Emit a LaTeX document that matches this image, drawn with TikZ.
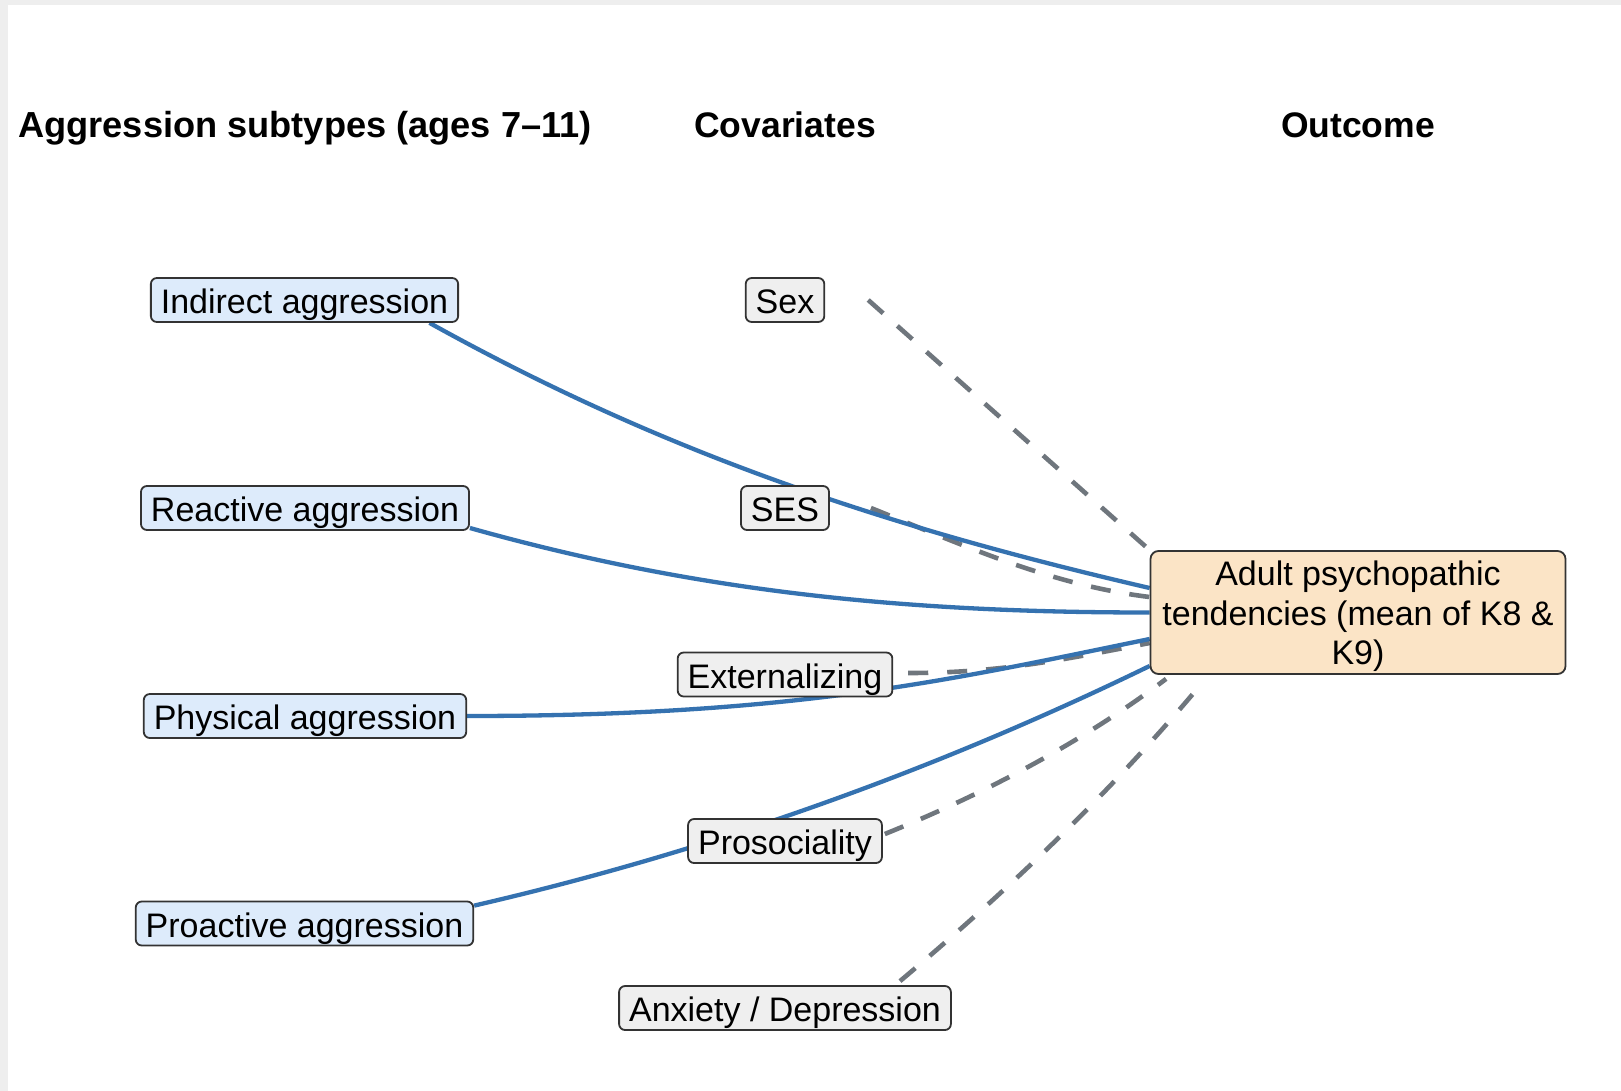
\documentclass[tikz,border=0pt]{standalone}
\usepackage{fontspec}
\setmainfont{Liberation Sans}
\usetikzlibrary{calc}
\definecolor{edgeblue}{HTML}{3572B0}
\definecolor{dashgray}{HTML}{6F767D}
\definecolor{boxborder}{HTML}{333333}
\definecolor{aggfill}{HTML}{DDEBFB}
\definecolor{covfill}{HTML}{EFEFEF}
\definecolor{outfill}{HTML}{FBE4C6}
\definecolor{framegray}{HTML}{EEEEEE}
\pgfdeclarelayer{bg}
\pgfdeclarelayer{edges}
\pgfsetlayers{bg,edges,main}
\begin{document}
\begin{tikzpicture}[x=1pt,y=-1pt,
  box/.style={draw=boxborder, line width=1.8pt, rounded corners=6pt, inner xsep=10pt, inner ysep=0pt, text height=35.5pt, text depth=8.5pt, font=\fontsize{34}{39}\selectfont},
  aggbox/.style={box, fill=aggfill},
  covbox/.style={box, fill=covfill},
  outbox/.style={draw=boxborder, line width=1.8pt, rounded corners=8pt, fill=outfill, minimum width=415pt, minimum height=123pt, align=center, font=\fontsize{34}{39.5}\selectfont, inner sep=0pt},
  heading/.style={font=\fontsize{35.5}{40}\selectfont\bfseries, anchor=base, inner sep=0pt},
  solidedge/.style={draw=edgeblue, line width=4.3pt},
  dashedge/.style={draw=dashgray, line width=4.6pt, dash pattern=on 20pt off 19pt},
]
\path[use as bounding box] (0,0) rectangle (1621,1091);
\begin{pgfonlayer}{bg}
  \fill[framegray] (0,0) rectangle (1621,1091);
  \fill[white] (8,5) rectangle (1621,1091);
\end{pgfonlayer}

% headings
\node[heading, font=\fontsize{36.2}{40}\selectfont\bfseries] (h1) at (305,138) {Aggression subtypes (ages 7–11)};
\node[heading] (h2) at (785,138) {Covariates};
\node[heading] (h3) at (1358,138) {Outcome};

% aggression subtypes
\node[aggbox] (ind) at (304.5,300) {Indirect aggression};
\node[aggbox] (rea) at (305,508) {Reactive aggression};
\node[aggbox] (phy) at (305,716) {Physical aggression};
\node[aggbox] (pro) at (304.5,923.5) {Proactive aggression};

% covariates
\node[covbox] (sex) at (785,300) {Sex};
\node[covbox] (ses) at (785,508) {SES};
\node[covbox] (ext) at (785,674.5) {Externalizing};
\node[covbox] (pros) at (785,841) {Prosociality};
\node[covbox] (anx) at (785,1008) {Anxiety / Depression};

% outcome
\node[outbox] (out) at (1358,612.5) {\rule{0pt}{33pt}Adult psychopathic\\tendencies (mean of K8 \&\\K9)};

\begin{pgfonlayer}{edges}
  % dashed covariate paths
  \draw[dashedge] ($(sex.east)+(43,0)$) -- (out.north west);
  \draw[dashedge] ($(ses.east)+(41,0)$) .. controls +(93,37.5) and +(-99,-12) .. ($(out.west)+(0,-15.5)$);
  \draw[dashedge] ($(ext.east)+(15,-1.5)$) .. controls +(90,0) and +(-88,17) .. ($(out.west)+(0,30.5)$);
  \draw[dashedge] ($(pros.east)+(2,-7)$) .. controls +(99,-40) and +(-85.5,64.4) .. ($(out.south west)+(16.5,4)$);
  \draw[dashedge] ($(anx.north)+(115,-4)$) .. controls +(107,-90) and +(-90,107) .. ($(out.south west)+(47.5,14)$);
  % solid aggression paths
  \draw[solidedge] ($(ind.south)+(125,0)$) .. controls +(236,131) and +(-263,-61) .. ($(out.west)+(0,-24.5)$);
  \draw[solidedge] ($(rea.east)+(0,20)$) .. controls +(231,65) and +(-240,0) .. (out.west);
  \draw[solidedge] (phy.east) .. controls +(332,0) and +(-196,40) .. ($(out.west)+(0,26.5)$);
  \draw[solidedge] ($(pro.north east)+(0,5)$) .. controls +(234,-54) and +(-216,105) .. ($(out.west)+(0,53.5)$);
\end{pgfonlayer}
\end{tikzpicture}
\end{document}
